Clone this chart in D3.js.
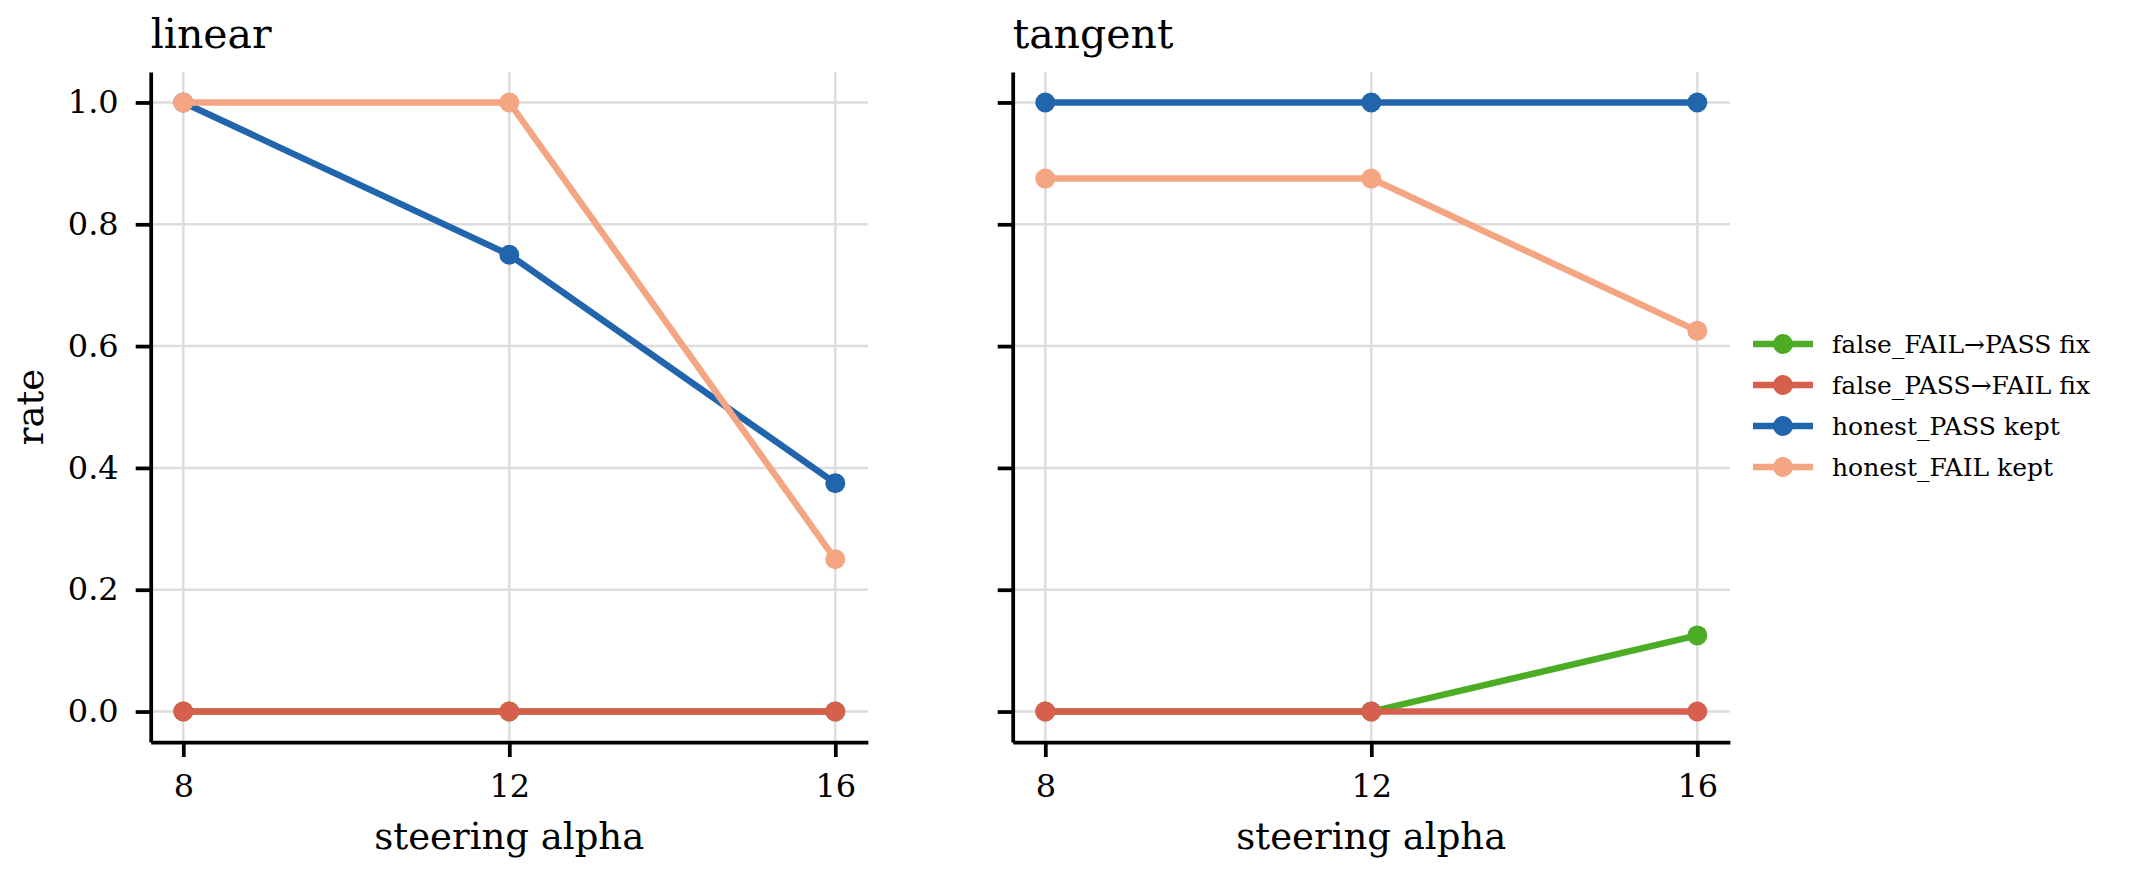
<!DOCTYPE html>
<html>
<head>
<meta charset="utf-8">
<script src="https://cdn.jsdelivr.net/npm/d3@7"></script>
<style>
  body { margin: 0; background: #fff; }
  text { font-family: "DejaVu Serif", serif; }
</style>
</head>
<body>
<div id="chart"></div>
<script>
var width = 2137;
var height = 872;

// data
var alphas = [8, 12, 16];
var seriesNames = ["false_FAIL\u2192PASS fix", "false_PASS\u2192FAIL fix", "honest_PASS kept", "honest_FAIL kept"];
var seriesColors = ["#4dac26", "#d6604d", "#2166ac", "#f4a582"];
var panelNames = ["linear", "tangent"];

var linearFalseFail = [0, 0, 0];
var linearFalsePass = [0, 0, 0];
var linearHonestPass = [1.0, 0.75, 0.375];
var linearHonestFail = [1.0, 1.0, 0.25];

var tangentFalseFail = [0, 0, 0.125];
var tangentFalsePass = [0, 0, 0];
var tangentHonestPass = [1.0, 1.0, 1.0];
var tangentHonestFail = [0.875, 0.875, 0.625];

var yTicks = [0, 0.2, 0.4, 0.6, 0.8, 1.0];

var panelData = [
    [linearFalseFail, linearFalsePass, linearHonestPass, linearHonestFail],
    [tangentFalseFail, tangentFalsePass, tangentHonestPass, tangentHonestFail]
];

var panelLeft = [150.7, 1012.7];
var panelWidth = 717.2;
var plotTop = 72, plotBottom = 742;

var svg = d3.select("#chart")
    .append("svg")
    .attr("width", width)
    .attr("height", height);

svg.append("rect").attr("width", width).attr("height", height).attr("fill", "#fff");

var y = d3.scaleLinear()
    .domain([-0.05, 1.05])
    .range([plotBottom, plotTop]);

panelNames.forEach(function(name, p) {
    var x = d3.scaleLinear()
        .domain([7.6, 16.4])
        .range([panelLeft[p], panelLeft[p] + panelWidth]);

    var g = svg.append("g");

    // grid
    g.selectAll(".gx")
        .data(alphas)
        .enter()
        .append("line")
        .attr("x1", function(d) { return x(d); })
        .attr("x2", function(d) { return x(d); })
        .attr("y1", plotTop)
        .attr("y2", plotBottom)
        .attr("stroke", "#dddddd")
        .attr("stroke-width", 2.5);

    g.selectAll(".gy")
        .data(yTicks)
        .enter()
        .append("line")
        .attr("x1", x.range()[0])
        .attr("x2", x.range()[1])
        .attr("y1", function(d) { return y(d); })
        .attr("y2", function(d) { return y(d); })
        .attr("stroke", "#dddddd")
        .attr("stroke-width", 2.5);

    // series
    var line = d3.line()
        .x(function(d, i) { return x(alphas[i]); })
        .y(function(d) { return y(d); });

    panelData[p].forEach(function(vals, s) {
        g.append("path")
            .attr("d", line(vals))
            .attr("fill", "none")
            .attr("stroke", seriesColors[s])
            .attr("stroke-width", 6.5);
        g.selectAll(".m" + s)
            .data(vals)
            .enter()
            .append("circle")
            .attr("cx", function(d, i) { return x(alphas[i]); })
            .attr("cy", function(d) { return y(d); })
            .attr("r", 10)
            .attr("fill", seriesColors[s]);
    });

    // axes
    var xAxis = g.append("g")
        .attr("transform", "translate(0," + plotBottom + ")")
        .call(d3.axisBottom(x).tickValues(alphas).tickSize(15).tickSizeOuter(0));
    xAxis.selectAll("text")
        .attr("y", 55)
        .attr("dy", null)
        .attr("font-size", 32)
        .attr("font-family", "DejaVu Serif")
        .attr("fill", "#000");

    var yAxis = g.append("g")
        .attr("transform", "translate(" + panelLeft[p] + ",0)")
        .call(d3.axisLeft(y).tickValues(yTicks).tickSize(15).tickSizeOuter(0)
            .tickFormat(p === 0 ? d3.format(".1f") : function() { return ""; }));
    yAxis.selectAll("text")
        .attr("x", -32)
        .attr("font-size", 32)
        .attr("font-family", "DejaVu Serif")
        .attr("fill", "#000");

    [xAxis, yAxis].forEach(function(a) {
        a.select(".domain").attr("stroke", "#000").attr("stroke-width", 3.75);
        a.selectAll(".tick line").attr("stroke", "#000").attr("stroke-width", 3.75);
    });

    // labels
    g.append("text")
        .attr("x", panelLeft[p])
        .attr("y", 48)
        .attr("font-size", 41)
        .text(name);

    g.append("text")
        .attr("x", panelLeft[p] + panelWidth / 2)
        .attr("y", 849)
        .attr("text-anchor", "middle")
        .attr("font-size", 37)
        .text("steering alpha");
});

svg.append("text")
    .attr("transform", "translate(43,407) rotate(-90)")
    .attr("text-anchor", "middle")
    .attr("font-size", 37)
    .text("rate");

// legend
var legend = svg.append("g").attr("transform", "translate(1753,344)");
seriesNames.forEach(function(name, i) {
    var row = legend.append("g").attr("transform", "translate(0," + (i * 41) + ")");
    row.append("line")
        .attr("x1", 0).attr("x2", 60)
        .attr("stroke", seriesColors[i])
        .attr("stroke-width", 6.5);
    row.append("circle")
        .attr("cx", 30)
        .attr("r", 10)
        .attr("fill", seriesColors[i]);
    row.append("text")
        .attr("x", 79)
        .attr("dy", "0.35em")
        .attr("font-size", 25)
        .text(name);
});
</script>
</body>
</html>
